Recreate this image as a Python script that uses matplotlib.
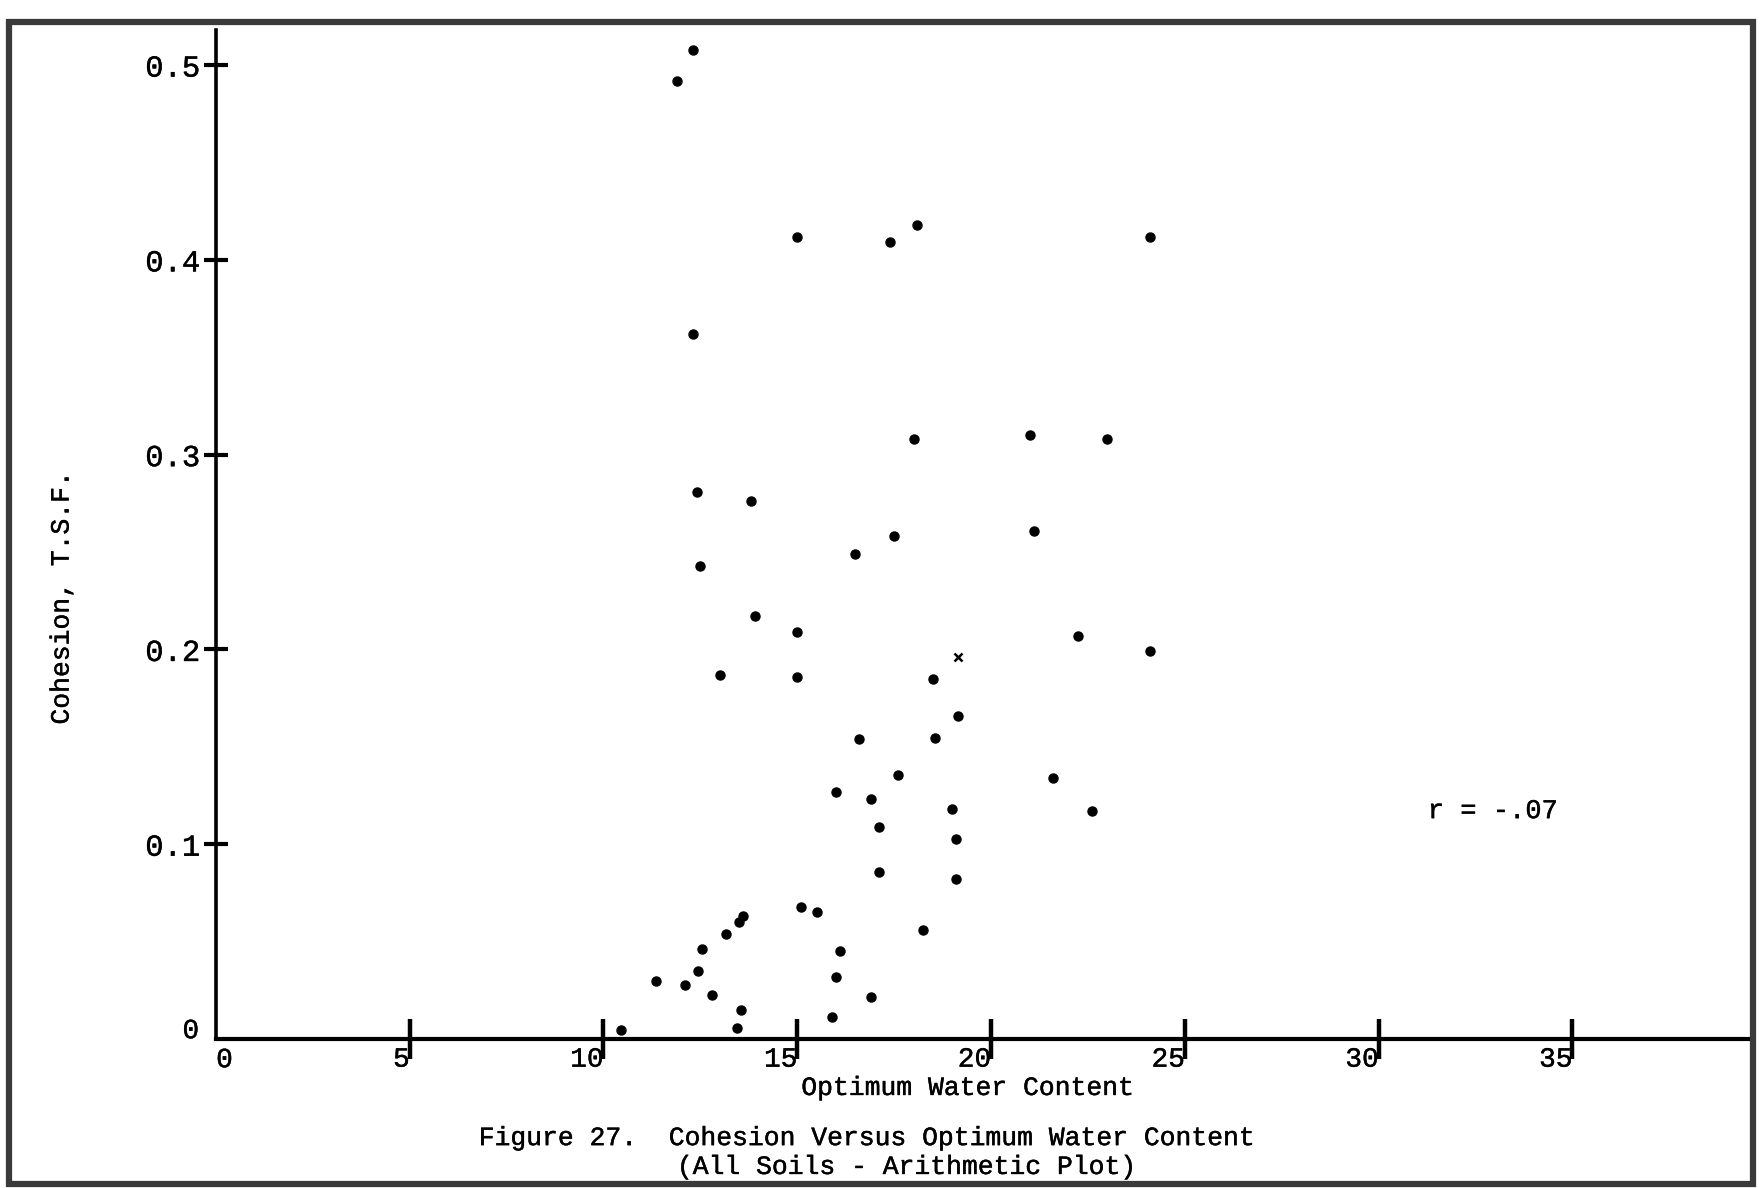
import matplotlib
matplotlib.use("Agg")
import matplotlib.pyplot as plt
import matplotlib.patheffects as pe
from matplotlib.patches import Rectangle

# optimum water content (%) and cohesion (T.S.F.)
WATER = [
    12.3, 11.9, 15.0, 17.4, 18.1, 24.1, 12.3,
    18.0, 21.0, 23.0,
    12.4, 13.8, 21.1, 17.5, 16.5, 12.5,
    13.9, 15.0, 22.25, 24.1,
    13.0, 15.0, 18.5,
    19.15, 16.6, 18.55,
    17.6, 21.6,
    16.0, 16.9, 19.0, 22.6,
    17.1, 19.1,
    17.1, 19.1,
    18.25,
    15.1, 15.5,
    13.5, 13.6, 13.15,
    12.55, 16.1,
    11.35, 12.1, 12.45, 16.0,
    12.8, 16.9,
    13.55, 15.9, 13.45, 10.45,
]
COHESION = [
    0.508, 0.492, 0.412, 0.409, 0.418, 0.412, 0.362,
    0.308, 0.310, 0.308,
    0.281, 0.276, 0.261, 0.258, 0.249, 0.243,
    0.217, 0.209, 0.207, 0.199,
    0.187, 0.186, 0.185,
    0.166, 0.154, 0.1545,
    0.1355, 0.134,
    0.127, 0.123, 0.118, 0.117,
    0.109, 0.1025,
    0.086, 0.082,
    0.056,
    0.068, 0.065,
    0.060, 0.063, 0.054,
    0.046, 0.045,
    0.030, 0.0275, 0.035, 0.032,
    0.0225, 0.0215,
    0.015, 0.0115, 0.0055, 0.0045,
]

# one point plotted with a different (bow-tie like) symbol
ODD_WATER = [19.15]
ODD_COHESION = [0.196]

XTICKS = [5, 10, 15, 20, 25, 30, 35]
YTICKS = [0.1, 0.2, 0.3, 0.4, 0.5]
YTICK_LABELS = ["0.1", "0.2", "0.3", "0.4", "0.5"]

FONT = "Liberation Mono"
# typewriter ink is a little heavier than the plain font
INK = [pe.withStroke(linewidth=0.3, foreground="black")]


def main():
    fig = plt.figure(figsize=(17.6, 11.88), dpi=100)
    fig.patch.set_facecolor("white")

    ax = fig.add_axes([0.1227, 0.1254, 0.996 - 0.1227, 0.9747 - 0.1254])

    ax.plot(WATER, COHESION, "o", color="black", markersize=6.5,
            linestyle="none", clip_on=False)
    ax.plot(ODD_WATER, ODD_COHESION, marker="x", color="black",
            markersize=5.5, markeredgewidth=1.8, linestyle="none")

    ax.set_xlim(0, 39.66)
    ax.set_ylim(0, 0.518)

    for side in ["top", "right"]:
        ax.spines[side].set_visible(False)
    ax.spines["left"].set_linewidth(2.6)
    ax.spines["bottom"].set_linewidth(3.0)

    # x ticks: vertical marks through the axis, numbers set to the left
    ax.set_xticks(XTICKS)
    ax.set_xticklabels([str(t) for t in XTICKS], ha="right",
                       fontfamily=FONT, fontsize=20, path_effects=INK)
    ax.tick_params(axis="x", direction="inout", length=29, width=3.2,
                   pad=-9)

    ax.set_yticks(YTICKS)
    ax.set_yticklabels(YTICK_LABELS, fontfamily=FONT, fontsize=22,
                       path_effects=INK)
    ax.tick_params(axis="y", direction="inout", length=17, width=3.0,
                   pad=3)
    for lbl in ax.get_yticklabels():
        lbl.set_verticalalignment("center_baseline")

    # the zeros on both axes have no tick mark
    ax.text(0.22, -0.021, "0", transform=ax.get_xaxis_transform(),
            ha="center", va="center", fontfamily=FONT, fontsize=20,
            path_effects=INK)
    ax.text(-0.65, 0.004, "0", ha="center", va="center",
            fontfamily=FONT, fontsize=20, clip_on=False, path_effects=INK)

    ax.text(31.27, 0.117, "r = -.07", ha="left", va="center",
            fontfamily=FONT, fontsize=19.5, path_effects=INK)

    fig.text(0.55, 0.0842, "Optimum Water Content", ha="center",
             va="center", fontfamily=FONT, fontsize=19, path_effects=INK)
    fig.text(0.035, 0.497, "Cohesion, T.S.F.", rotation=90, ha="center",
             va="center", fontfamily=FONT, fontsize=19, path_effects=INK)

    fig.text(0.272, 0.042, "Figure 27.  Cohesion Versus Optimum Water Content",
             ha="left", va="center", fontfamily=FONT, fontsize=19,
             path_effects=INK)
    fig.text(0.3846, 0.0177, "(All Soils - Arithmetic Plot)",
             ha="left", va="center", fontfamily=FONT, fontsize=19,
             path_effects=INK)

    # scanned page frame
    frame = Rectangle((9 / 1760, 1 - 1184 / 1188),
                      (1753 - 9) / 1760, (1184 - 22) / 1188,
                      transform=fig.transFigure, fill=False,
                      edgecolor="#3a3a3a", linewidth=4.5)
    fig.patches.append(frame)

    fig.savefig("out.png", dpi=100, facecolor="white")


if __name__ == "__main__":
    main()
